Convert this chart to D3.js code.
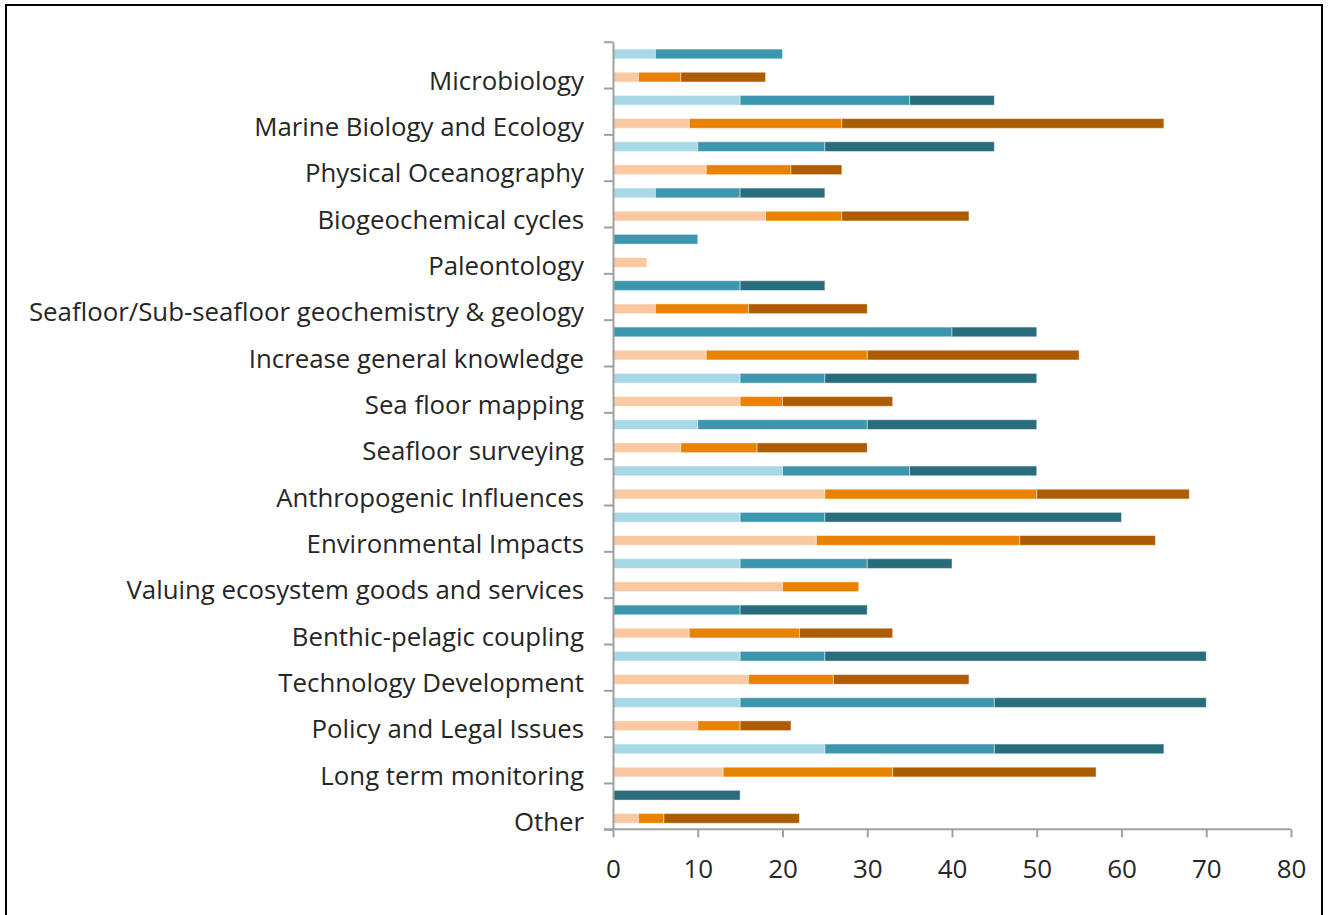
<!DOCTYPE html>
<html>
<head>
<meta charset="utf-8">
<script src="https://cdn.jsdelivr.net/npm/d3@7"></script>
<style>
  html, body { margin: 0; padding: 0; background: #fff; }
  svg { display: block; }
  text { font-family: "Open Sans", "Noto Sans", sans-serif; fill: #262626; }
</style>
</head>
<body>
<svg id="chart" width="1328" height="915"></svg>
<script>
const categories = ["Microbiology", "Marine Biology and Ecology", "Physical Oceanography", "Biogeochemical cycles", "Paleontology", "Seafloor/Sub-seafloor geochemistry & geology", "Increase general knowledge", "Sea floor mapping", "Seafloor surveying", "Anthropogenic Influences", "Environmental Impacts", "Valuing ecosystem goods and services", "Benthic-pelagic coupling", "Technology Development", "Policy and Legal Issues", "Long term monitoring", "Other"];

// blue group (upper bar in each category)
const blueLight = [5, 15, 10, 5, 0, 0, 0, 15, 10, 20, 15, 15, 0, 15, 15, 25, 0];
const blueMid   = [15, 20, 15, 10, 10, 15, 40, 10, 20, 15, 10, 15, 15, 10, 30, 20, 0];
const blueDark  = [0, 10, 20, 10, 0, 10, 10, 25, 20, 15, 35, 10, 15, 45, 25, 20, 15];
// orange group (lower bar in each category)
const orangeLight = [3, 9, 11, 18, 4, 5, 11, 15, 8, 25, 24, 20, 9, 16, 10, 13, 3];
const orangeMid   = [5, 18, 10, 9, 0, 11, 19, 5, 9, 25, 24, 9, 13, 10, 5, 20, 3];
const orangeDark  = [10, 38, 6, 15, 0, 14, 25, 13, 13, 18, 16, 0, 11, 16, 6, 24, 16];

const xTicks = [0, 10, 20, 30, 40, 50, 60, 70, 80];

const blueColors = ["#a6d8e6", "#3c97ae", "#296c7c"];
const orangeColors = ["#fbc9a1", "#e98200", "#ad5c00"];

const svg = d3.select("#chart");

// outer frame
svg.append("rect")
  .attr("x", 6).attr("y", 5)
  .attr("width", 1316).attr("height", 940)
  .attr("fill", "none").attr("stroke", "#000").attr("stroke-width", 2);

const x = d3.scaleLinear().domain([0, 80]).range([613, 1291]);
const y = d3.scaleBand().domain(categories).range([41.7, 829.3]).paddingInner(0).paddingOuter(0);
const sub = d3.scaleBand().domain(["blue", "orange"]).range([0, y.bandwidth()]).paddingInner(0.58).paddingOuter(0.29).align(0.55);

const blueRows = categories.map((c, i) => ({ cat: c, a: blueLight[i], b: blueMid[i], c3: blueDark[i] }));
const orangeRows = categories.map((c, i) => ({ cat: c, a: orangeLight[i], b: orangeMid[i], c3: orangeDark[i] }));
const stack = d3.stack().keys(["a", "b", "c3"]);

function drawGroup(rows, colors, key) {
  const series = stack(rows);
  const g = svg.append("g");
  series.forEach((s, si) => {
    g.selectAll(null)
      .data(s.filter(d => d[1] - d[0] > 0))
      .join("rect")
      .attr("x", d => x(d[0]))
      .attr("width", d => x(d[1]) - x(d[0]))
      .attr("y", d => y(d.data.cat) + sub(key))
      .attr("height", sub.bandwidth())
      .attr("fill", colors[si])
      .attr("stroke", "#ffffff")
      .attr("stroke-opacity", 0.45)
      .attr("stroke-width", 1);
  });
}
drawGroup(blueRows, blueColors, "blue");
drawGroup(orangeRows, orangeColors, "orange");

// y axis: ticks at category boundaries
const yIdx = d3.scaleLinear().domain([0, categories.length]).range([41.7, 829.3]);
const yAxis = svg.append("g")
  .attr("transform", "translate(613,0)")
  .call(d3.axisLeft(yIdx).tickValues(d3.range(0, categories.length + 1)).tickSize(9).tickSizeOuter(0).tickFormat(""));
yAxis.select(".domain").attr("stroke", "#a0a0a0").attr("stroke-width", 2);
yAxis.selectAll(".tick line").attr("stroke", "#a0a0a0").attr("stroke-width", 2);

// category labels
svg.append("g").selectAll("text")
  .data(categories)
  .join("text")
  .attr("x", 584)
  .attr("y", d => y(d) + y.bandwidth() * 0.89)
  .attr("text-anchor", "end")
  .attr("dominant-baseline", "middle")
  .attr("font-size", 25.8)
  .text(d => d);

// x axis
const xAxis = svg.append("g")
  .attr("transform", "translate(0,829.3)")
  .call(d3.axisBottom(x).tickValues(xTicks).tickSize(8).tickSizeOuter(0).tickPadding(22));
xAxis.select(".domain").attr("stroke", "#a0a0a0").attr("stroke-width", 2).attr("d", "M604,0H1291");
xAxis.selectAll(".tick line").attr("stroke", "#a0a0a0").attr("stroke-width", 2);
xAxis.selectAll(".tick text").attr("font-size", 26).attr("font-family", "Open Sans, Noto Sans, sans-serif").attr("fill", "#262626");
</script>
</body>
</html>
